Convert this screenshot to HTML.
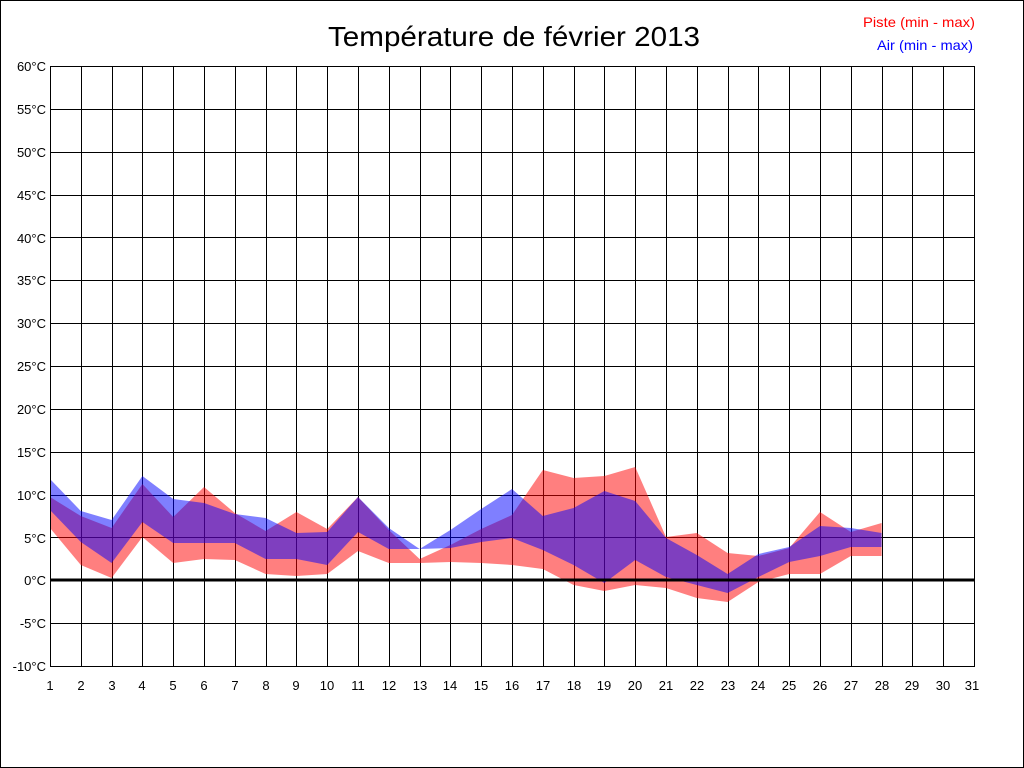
<!DOCTYPE html>
<html><head><meta charset="utf-8"><style>
html,body{margin:0;padding:0;background:#fff}
svg{display:block}
text{font-family:"Liberation Sans",Arial,sans-serif}
</style></head><body>
<svg id="s" width="1024" height="768" xmlns="http://www.w3.org/2000/svg">
<rect x="0.5" y="0.5" width="1023" height="767" fill="#fff" stroke="#000"/>
<g id="grid" stroke="#000" stroke-width="1" shape-rendering="crispEdges"></g>
<g id="fills"></g>
<line x1="50" y1="580" x2="974" y2="580" stroke="#000" stroke-width="3"/>
<rect x="50.5" y="66.5" width="924" height="600" fill="none" stroke="#000" shape-rendering="crispEdges"/>
<text x="514" y="46" font-size="28" text-anchor="middle" textLength="372" lengthAdjust="spacingAndGlyphs">Température de février 2013</text>
<text x="975" y="27" font-size="14" text-anchor="end" fill="#f00" textLength="112" lengthAdjust="spacingAndGlyphs">Piste (min - max)</text>
<text x="973" y="50" font-size="14" text-anchor="end" fill="#00f" textLength="96" lengthAdjust="spacingAndGlyphs">Air (min - max)</text>
<g font-size="13" text-anchor="end">
<text x="46" y="71">60°C</text><text x="46" y="114">55°C</text><text x="46" y="157">50°C</text><text x="46" y="200">45°C</text><text x="46" y="243">40°C</text><text x="46" y="285">35°C</text><text x="46" y="328">30°C</text><text x="46" y="371">25°C</text><text x="46" y="414">20°C</text><text x="46" y="457">15°C</text><text x="46" y="500">10°C</text><text x="46" y="543">5°C</text><text x="46" y="585">0°C</text><text x="46" y="628">-5°C</text><text x="46" y="671">-10°C</text>
</g>
<g font-size="13" text-anchor="middle">
<text x="50" y="690">1</text><text x="81" y="690">2</text><text x="112" y="690">3</text><text x="142" y="690">4</text><text x="173" y="690">5</text><text x="204" y="690">6</text><text x="235" y="690">7</text><text x="266" y="690">8</text><text x="296" y="690">9</text><text x="327" y="690">10</text><text x="358" y="690">11</text><text x="389" y="690">12</text><text x="420" y="690">13</text><text x="450" y="690">14</text><text x="481" y="690">15</text><text x="512" y="690">16</text><text x="543" y="690">17</text><text x="574" y="690">18</text><text x="604" y="690">19</text><text x="635" y="690">20</text><text x="666" y="690">21</text><text x="697" y="690">22</text><text x="728" y="690">23</text><text x="758" y="690">24</text><text x="789" y="690">25</text><text x="820" y="690">26</text><text x="851" y="690">27</text><text x="882" y="690">28</text><text x="912" y="690">29</text><text x="943" y="690">30</text><text x="972" y="690">31</text>
</g>
</svg>
<script>
var ns="http://www.w3.org/2000/svg";
var g=document.getElementById("grid"),f=document.getElementById("fills");
function X(d){return 50+(d-1)*30.8;}
for(var d=1;d<=31;d++){var l=document.createElementNS(ns,"line");var x=Math.round(X(d))+0.5;l.setAttribute("x1",x);l.setAttribute("x2",x);l.setAttribute("y1",66);l.setAttribute("y2",666);g.appendChild(l);}
for(var i=0;i<=14;i++){var l=document.createElementNS(ns,"line");var y=Math.round(66+i*600/14)+0.5;l.setAttribute("x1",50);l.setAttribute("x2",974);l.setAttribute("y1",y);l.setAttribute("y2",y);g.appendChild(l);}
var rmax=[497,516,528,484,517,487,513,531,512,529,497,530,559,545,529,515,470,478,476,467,537,533,553,556,548,512,532,523];
var rmin=[528,565,578,537,563,559,560,574,576,574,551,563,563,562,563,565,569,585,591,585,588,598,602,582,574,574,556,556];
var bmax=[479,511,520,476,499,503,514,518,533,532,497,528,549,530,509,489,516,508,491,501,538,555,574,554,547,526,528,533];
var bmin=[510,542,563,522,543,543,543,559,559,565,532,549,549,548,542,538,550,565,583,560,577,585,593,577,562,556,547,547];
function poly(a,b,c){var p=[];for(var i=0;i<a.length;i++)p.push(X(i+1)+","+a[i]);for(var i=b.length-1;i>=0;i--)p.push(X(i+1)+","+b[i]);var e=document.createElementNS(ns,"polygon");e.setAttribute("points",p.join(" "));e.setAttribute("fill",c);e.setAttribute("fill-opacity","0.5");f.appendChild(e);}
poly(rmax,rmin,"#ff0000");poly(bmax,bmin,"#0000ff");
</script>
</body></html>
